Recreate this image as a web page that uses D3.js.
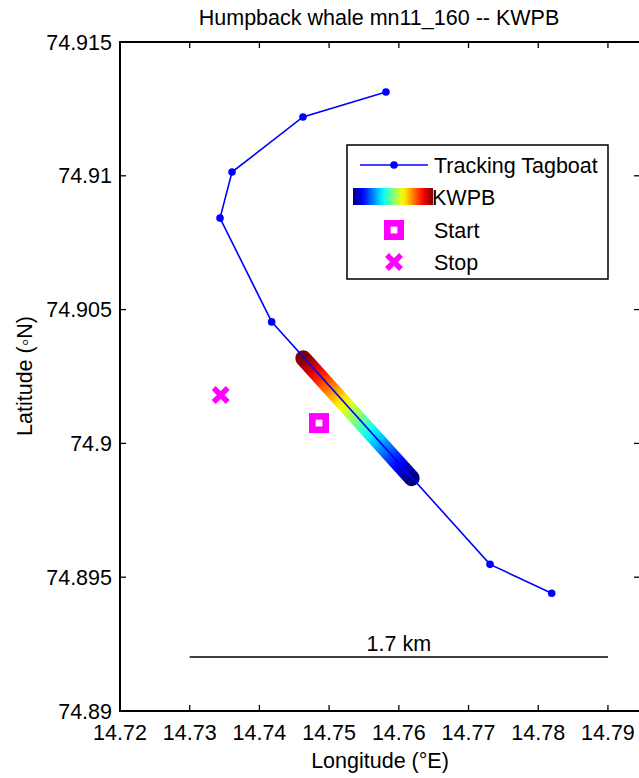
<!DOCTYPE html>
<html><head><meta charset="utf-8">
<script src="https://cdn.jsdelivr.net/npm/d3@7"></script>
<style>body{margin:0;background:#fff;overflow:hidden}text{font-family:"Liberation Sans",Arial,Helvetica,sans-serif;fill:#000}</style>
</head><body><svg id="c" width="639" height="778"></svg>
<script>
// ---- data ----
const boatLon = [14.75816, 14.74625, 14.73607, 14.73435, 14.74176, 14.77308, 14.78193];
const boatLat = [74.91313, 74.91220, 74.91014, 74.90842, 74.90454, 74.89548, 74.89440];
const kwpbLon = [14.74630, 14.76185];
const kwpbLat = [74.90318, 74.89870];
const startLonLat = [14.74855, 74.90076];
const stopLonLat = [14.73445, 74.90181];
const scaleBarLon = [14.73, 14.79];
const scaleBarLat = 74.89202;
const scaleBarLabel = "1.7 km";
const xTicks = [14.72, 14.73, 14.74, 14.75, 14.76, 14.77, 14.78, 14.79];
const yTicks = [74.89, 74.895, 74.9, 74.905, 74.91, 74.915];
const yTickLabels = ["74.89", "74.895", "74.9", "74.905", "74.91", "74.915"];
const legendLabels = ["Tracking Tagboat", "KWPB", "Start", "Stop"];
const titleText = "Humpback whale mn11_160 -- KWPB";

// ---- layout ----
const L = 120, R = 640, T = 42, B = 711;
const x = d3.scaleLinear().domain([14.72, 14.7946]).range([L, R]);
const y = d3.scaleLinear().domain([74.89, 74.915]).range([B, T]);
const FS = 21.5;
const magenta = "#ff00ff", blue = "#0000ff";

function jet(t) {
  const c = v => Math.max(0, Math.min(1, v));
  const r = c(1.5 - Math.abs(4 * t - 3)), g = c(1.5 - Math.abs(4 * t - 2)), b = c(1.5 - Math.abs(4 * t - 1));
  return d3.rgb(r * 255, g * 255, b * 255).formatHex();
}

const svg = d3.select("#c");
const defs = svg.append("defs");

const bg = defs.append("linearGradient").attr("id", "bandGrad").attr("gradientUnits", "userSpaceOnUse")
  .attr("x1", x(kwpbLon[1])).attr("y1", y(kwpbLat[1])).attr("x2", x(kwpbLon[0])).attr("y2", y(kwpbLat[0]));
d3.range(0, 1.0001, 0.05).forEach(t => bg.append("stop").attr("offset", t).attr("stop-color", jet(t)));
const lg = defs.append("linearGradient").attr("id", "legGrad");
d3.range(0, 1.0001, 0.05).forEach(t => lg.append("stop").attr("offset", t).attr("stop-color", jet(t)));

svg.append("clipPath").attr("id", "clip").append("rect").attr("x", L).attr("y", T).attr("width", R - L).attr("height", B - T);
const g = svg.append("g").attr("clip-path", "url(#clip)");

// KWPB band
const kwpb = kwpbLon.map((d, i) => [d, kwpbLat[i]]);
g.append("path").attr("d", d3.line().x(d => x(d[0])).y(d => y(d[1]))(kwpb))
  .attr("stroke", "url(#bandGrad)").attr("stroke-width", 16).attr("stroke-linecap", "round").attr("fill", "none");

// boat track
const boat = boatLon.map((d, i) => [d, boatLat[i]]);
g.append("path").attr("d", d3.line().x(d => x(d[0])).y(d => y(d[1]))(boat))
  .attr("stroke", blue).attr("stroke-width", 1.6).attr("fill", "none");
g.selectAll("circle.b").data(boat).join("circle").attr("cx", d => x(d[0])).attr("cy", d => y(d[1])).attr("r", 3.8).attr("fill", blue);

function startMarker(sel, cx, cy) {
  sel.append("rect").attr("x", cx - 6.7).attr("y", cy - 6.7).attr("width", 13.4).attr("height", 13.4)
    .attr("fill", "none").attr("stroke", magenta).attr("stroke-width", 6.6);
}
function stopMarker(sel, cx, cy) {
  const h = 7;
  sel.append("path").attr("d", `M${cx - h},${cy - h}L${cx + h},${cy + h}M${cx - h},${cy + h}L${cx + h},${cy - h}`)
    .attr("stroke", magenta).attr("stroke-width", 5.5).attr("fill", "none");
}
startMarker(g, x(startLonLat[0]), y(startLonLat[1]));
stopMarker(g, x(stopLonLat[0]), y(stopLonLat[1]));

// scale bar
g.append("line").attr("x1", x(scaleBarLon[0])).attr("x2", x(scaleBarLon[1])).attr("y1", y(scaleBarLat)).attr("y2", y(scaleBarLat))
  .attr("stroke", "#000").attr("stroke-width", 1.5);
svg.append("text").attr("x", (x(scaleBarLon[0]) + x(scaleBarLon[1])) / 2).attr("y", y(scaleBarLat) - 6)
  .attr("text-anchor", "middle").attr("font-size", FS).text(scaleBarLabel);

// axes box and ticks
const ax = svg.append("g").attr("stroke", "#000");
ax.append("rect").attr("x", L).attr("y", T).attr("width", R - L).attr("height", B - T).attr("fill", "none").attr("stroke-width", 2);
xTicks.forEach(v => {
  ax.append("line").attr("x1", x(v)).attr("x2", x(v)).attr("y1", B).attr("y2", B - 6).attr("stroke-width", 1.3);
  ax.append("line").attr("x1", x(v)).attr("x2", x(v)).attr("y1", T).attr("y2", T + 6).attr("stroke-width", 1.3);
});
yTicks.forEach(v => {
  ax.append("line").attr("x1", L).attr("x2", L + 6).attr("y1", y(v)).attr("y2", y(v)).attr("stroke-width", 1.3);
  ax.append("line").attr("x1", R).attr("x2", R - 6).attr("y1", y(v)).attr("y2", y(v)).attr("stroke-width", 1.3);
});
svg.selectAll("text.xt").data(xTicks).join("text").attr("class", "xt")
  .attr("x", d => x(d)).attr("y", B + 29).attr("text-anchor", "middle").attr("font-size", FS).text(d => d.toFixed(2));
svg.selectAll("text.yt").data(yTicks).join("text").attr("class", "yt")
  .attr("x", L - 8).attr("y", d => y(d) + 7.5).attr("text-anchor", "end").attr("font-size", FS).text((d, i) => yTickLabels[i]);

// labels
svg.append("text").attr("x", 379).attr("y", 25).attr("text-anchor", "middle").attr("font-size", FS).text(titleText);
svg.append("text").attr("x", 380).attr("y", 768).attr("text-anchor", "middle").attr("font-size", FS).text("Longitude (°E)");
svg.append("text").attr("transform", "translate(32,376) rotate(-90)").attr("text-anchor", "middle").attr("font-size", FS).text("Latitude (◦N)");

// legend
const leg = svg.append("g");
leg.append("rect").attr("x", 347).attr("y", 145).attr("width", 261).attr("height", 134).attr("fill", "#fff").attr("stroke", "#000").attr("stroke-width", 1.5);
const rows = [165, 197, 230, 262];
leg.append("line").attr("x1", 360).attr("x2", 428).attr("y1", rows[0]).attr("y2", rows[0]).attr("stroke", blue).attr("stroke-width", 1.6);
leg.append("circle").attr("cx", 394).attr("cy", rows[0]).attr("r", 3.8).attr("fill", blue);
leg.append("rect").attr("x", 353).attr("y", rows[1] - 9).attr("width", 80).attr("height", 17).attr("fill", "url(#legGrad)");
startMarker(leg, 394, rows[2]);
stopMarker(leg, 394, rows[3]);
legendLabels.forEach((t, i) => {
  leg.append("text").attr("x", i === 1 ? 432 : 434).attr("y", rows[i] + 7.5).attr("font-size", FS).text(t);
});
</script></body></html>
